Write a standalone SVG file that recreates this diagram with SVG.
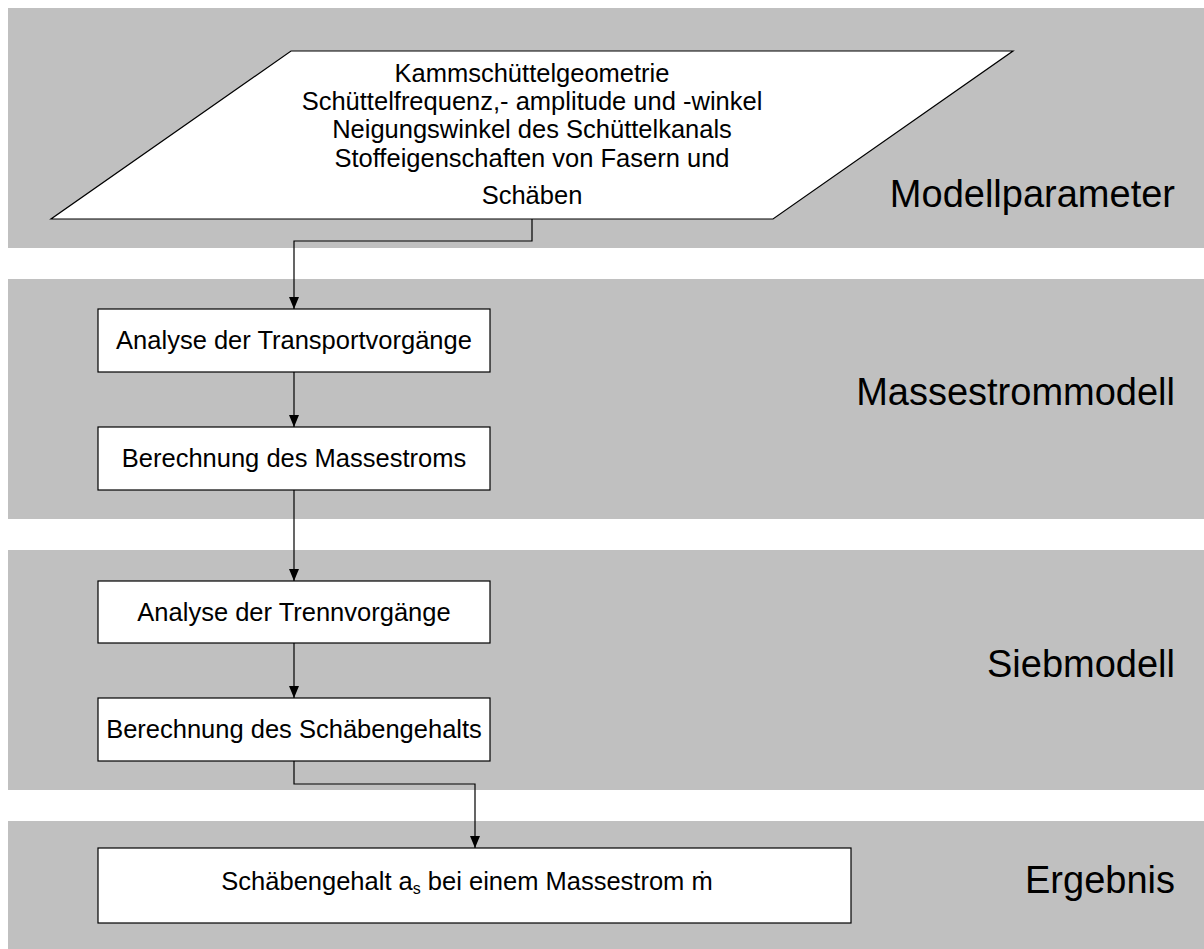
<svg xmlns="http://www.w3.org/2000/svg" width="1204" height="949" viewBox="0 0 1204 949">
<style>
.band{fill:#c0c0c0;stroke:none}
.node{fill:#ffffff;stroke:#000000;stroke-width:1.2}
.t{font-family:"Liberation Sans",Arial,sans-serif;font-size:25.5px;fill:#000000;text-anchor:middle}
.lbl{font-family:"Liberation Sans",Arial,sans-serif;font-size:38px;fill:#000000;text-anchor:end}
.conn{fill:none;stroke:#000000;stroke-width:1.2}
</style>
<defs>
<marker id="arr" viewBox="0 0 12 10" refX="12" refY="5" markerWidth="12" markerHeight="10" markerUnits="userSpaceOnUse" orient="auto">
<path d="M0,0 L12,5 L0,10 Z" fill="#000000"/>
</marker>
</defs>
<g id="bands">
<rect class="band" x="8" y="8" width="1196" height="240"/>
<rect class="band" x="8" y="279" width="1196" height="240"/>
<rect class="band" x="8" y="550" width="1196" height="240"/>
<rect class="band" x="8" y="821" width="1196" height="128"/>
<text class="lbl" x="1175" y="207">Modellparameter</text>
<text class="lbl" x="1175" y="405">Massestrommodell</text>
<text class="lbl" x="1175" y="677">Siebmodell</text>
<text class="lbl" x="1175" y="893">Ergebnis</text>
</g>
<g id="connectors">
<path class="conn" d="M532,219 V241 H294 V309" marker-end="url(#arr)"/>
<path class="conn" d="M294,372 V427" marker-end="url(#arr)"/>
<path class="conn" d="M294,490 V581" marker-end="url(#arr)"/>
<path class="conn" d="M294,643 V698" marker-end="url(#arr)"/>
<path class="conn" d="M294,761 V784 H475 V848" marker-end="url(#arr)"/>
</g>
<g id="n_params">
<polygon class="node" points="291,51 1013,51 773,219 51,219"/>
<text class="t" x="532" y="82">Kammschüttelgeometrie</text>
<text class="t" x="532" y="110">Schüttelfrequenz,- amplitude und -winkel</text>
<text class="t" x="532" y="138">Neigungswinkel des Schüttelkanals</text>
<text class="t" x="532" y="167">Stoffeigenschaften von Fasern und</text>
<text class="t" x="532" y="204">Schäben</text>
</g>
<g id="n_transport">
<rect class="node" x="98" y="309" width="392" height="63"/>
<text class="t" x="294" y="349">Analyse der Transportvorgänge</text>
</g>
<g id="n_massestrom">
<rect class="node" x="98" y="427" width="392" height="63"/>
<text class="t" x="294" y="467">Berechnung des Massestroms</text>
</g>
<g id="n_trenn">
<rect class="node" x="98" y="581" width="392" height="62"/>
<text class="t" x="294" y="621">Analyse der Trennvorgänge</text>
</g>
<g id="n_schaeben">
<rect class="node" x="98" y="698" width="392" height="63"/>
<text class="t" x="294" y="738">Berechnung des Schäbengehalts</text>
</g>
<g id="n_ergebnis">
<rect class="node" x="98" y="848" width="753" height="75"/>
<text class="t" x="467" y="890">Schäbengehalt a<tspan font-size="16" dy="4">s</tspan><tspan dy="-4"> bei einem Massestrom ṁ</tspan></text>
</g>
</svg>
